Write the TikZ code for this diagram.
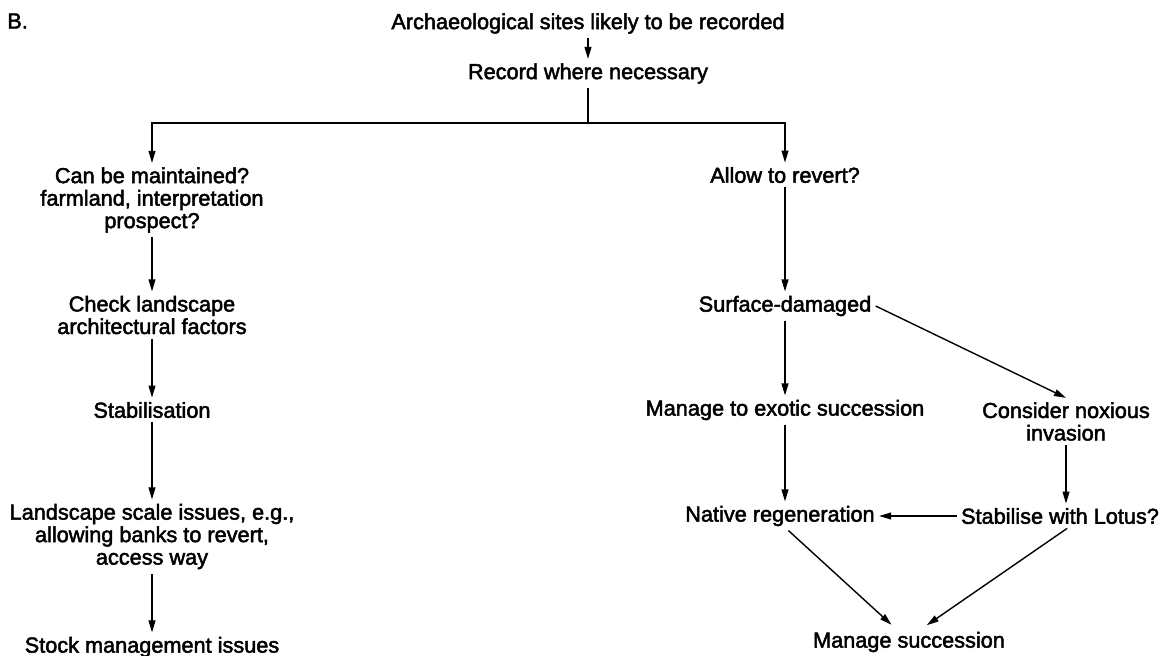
\documentclass[tikz,border=0pt]{standalone}
\usepackage{fontspec}
\setmainfont{Liberation Sans}[BoldFont={Liberation Sans},BoldFeatures={FakeBold=2.2}]
\usetikzlibrary{arrows.meta,positioning}

\begin{document}
\begin{tikzpicture}[x=0.5pt,y=-0.5pt,
  font=\fontsize{10.85}{11.25}\selectfont\bfseries,
  every node/.style={inner sep=2pt,align=center},
  link/.style={line width=0.7pt},
  flow/.style={link,-{Triangle[length=6pt,width=3.4pt]}}]
\useasboundingbox (0,0) rectangle (1172,656);
\draw (3,21) node[anchor=west] (lbl) {B.};

% top of the tree
\draw (588,23.5) node (arch) {Archaeological sites likely to be recorded};
\draw (588,73.5) node (rec) {Record where necessary};
\coordinate (split) at (588,123);
\draw [flow] (arch) -- (rec);
\draw [link] (rec) -- (split);

% left branch
\draw (152,200) node (maint) {Can be maintained?\\farmland, interpretation\\prospect?};
\draw (152,315) node (check) {Check landscape\\architectural factors};
\draw (152,410) node (stab) {Stabilisation};
\draw (152,536.5) node (land) {Landscape scale issues, e.g.,\\allowing banks to revert,\\access way};
\draw (152,647) node (stock) {Stock management issues};
\draw [flow] (split) -| (maint);
\draw [flow] (maint) -- (check);
\draw [flow] (check) -- (stab);
\draw [flow] (stab) -- (land);
\draw [flow] (land) -- (stock);

% right branch
\draw (785,175) node (revert) {Allow to revert?};
\draw (785,306) node (surf) {Surface-damaged};
\draw (785,410) node (exotic) {Manage to exotic succession};
\draw (1066,421.5) node (noxious) {Consider noxious\\invasion};
\draw (780,516) node (native) {Native regeneration};
\draw (1060,516) node (lotus) {Stabilise with Lotus?};
\draw (909,642) node (succ) {Manage succession};
\draw [flow] (split) -| (revert);
\draw [flow] (revert) -- (surf);
\draw [flow] (surf) -- (surf |- exotic.north);
\draw [flow] (surf.east) -- (noxious.north);
\draw [flow] (exotic) -- (exotic |- native.north);
\draw [flow] (noxious) -- (noxious |- lotus.north);
\draw [flow] (lotus) -- (native);
\draw [flow,shorten >=2pt] (native.-60) -- (succ.135);
\draw [flow,shorten >=2pt] (lotus.-60) -- (succ.45);
\end{tikzpicture}
\end{document}
